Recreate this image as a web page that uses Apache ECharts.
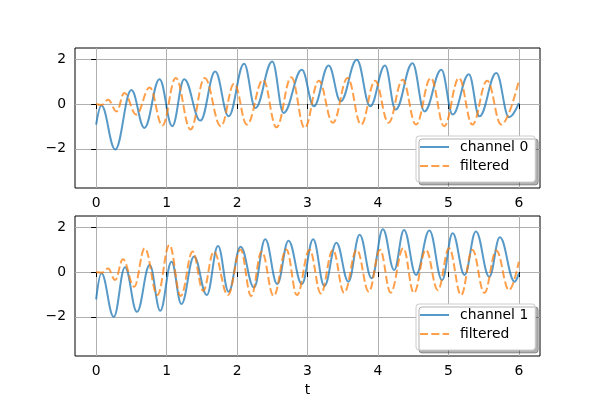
<!DOCTYPE html>
<html><head><meta charset="utf-8">
<script src="https://cdn.jsdelivr.net/npm/echarts@6/dist/echarts.min.js"></script>
<style>html,body{margin:0;padding:0;background:#fff}#c{width:600px;height:400px}</style>
</head><body><div id="c"></div>
<script>
// Channel 0 (top) - extrema
const t0   = [0, 0.075, 0.27, 0.50, 0.685, 0.90, 1.08, 1.25, 1.48, 1.69, 1.88, 2.10, 2.26, 2.50, 2.66, 2.92, 3.09, 3.30, 3.47, 3.70, 3.89, 4.10, 4.25, 4.49, 4.66, 4.90, 5.06, 5.29, 5.44, 5.68, 5.86, 6.0];
const ch0  = [-0.92, -0.07, -2.03, 0.62, -1.07, 1.11, -0.99, 1.11, -0.74, 1.45, -0.55, 1.80, -0.18, 1.90, -0.40, 1.53, -0.10, 1.72, 0.12, 1.97, -0.10, 1.72, -0.25, 1.82, -0.33, 1.53, -0.47, 1.33, -0.55, 1.38, -0.59, 0.04];
const tf0  = [0, 0.08, 0.17, 0.29, 0.40, 0.57, 0.76, 0.94, 1.13, 1.34, 1.54, 1.77, 1.96, 2.14, 2.37, 2.56, 2.77, 2.96, 3.16, 3.36, 3.57, 3.76, 3.96, 4.15, 4.35, 4.54, 4.75, 4.94, 5.15, 5.34, 5.55, 5.75, 6.0];
const flt0 = [0, -0.04, 0.19, -0.33, 0.49, -0.47, 0.74, -0.96, 1.16, -1.14, 1.16, -0.99, 0.91, -0.92, 1.08, -1.04, 1.19, -1.07, 1.04, -0.84, 1.16, -0.92, 1.04, -0.84, 1.08, -0.92, 1.16, -0.99, 1.16, -0.92, 1.04, -0.92, 1.05];
// Channel 1 (bottom)
const t1   = [0, 0.075, 0.25, 0.41, 0.58, 0.76, 0.91, 1.07, 1.21, 1.39, 1.57, 1.73, 1.88, 2.05, 2.24, 2.40, 2.57, 2.73, 2.92, 3.08, 3.24, 3.41, 3.58, 3.74, 3.91, 4.07, 4.23, 4.37, 4.54, 4.73, 4.91, 5.06, 5.23, 5.39, 5.58, 5.73, 5.94, 6.0];
const ch1  = [-1.22, -0.06, -2.0, 0.21, -1.78, 0.31, -1.73, 0.46, -1.43, 0.69, -1.03, 1.16, -0.88, 1.13, -0.69, 1.46, -0.54, 1.40, -0.54, 1.46, -0.63, 1.31, -0.43, 1.66, -0.28, 1.91, 0.09, 1.88, -0.13, 1.85, -0.36, 1.73, -0.13, 1.81, -0.21, 1.55, -0.43, -0.06];
const tf1  = [0, 0.08, 0.17, 0.27, 0.38, 0.54, 0.69, 0.87, 1.04, 1.20, 1.37, 1.52, 1.67, 1.87, 2.05, 2.20, 2.35, 2.52, 2.70, 2.85, 3.03, 3.19, 3.36, 3.52, 3.70, 3.87, 4.03, 4.18, 4.36, 4.51, 4.68, 4.85, 5.01, 5.18, 5.34, 5.51, 5.68, 5.86, 6.0];
const flt1 = [0, -0.03, 0.16, -0.36, 0.57, -0.66, 1.06, -1.03, 1.21, -1.07, 0.91, -0.84, 0.91, -1.03, 1.0, -1.07, 0.91, -1.07, 1.01, -1.03, 0.99, -0.96, 0.99, -0.93, 0.99, -0.88, 0.99, -0.92, 1.06, -0.93, 0.99, -0.81, 1.06, -1.03, 0.99, -0.93, 0.96, -0.81, 0.46];

const xTicks = [0, 1, 2, 3, 4, 5, 6];
const yTicks = [-2, 0, 2];
const legendTop = ['channel 0', 'filtered'];
const legendBottom = ['channel 1', 'filtered'];

const FONT = 'DejaVu Sans';
const FS = 13.9;
const BLUE = '#1f77b4', ORANGE = '#ff7f0e';

function pairs(t, y) { return t.map((v, i) => [v, y[i]]); }

function mkX(gi, name) {
  return {
    type: 'value', gridIndex: gi, min: -0.3, max: 6.3,
    axisLine: { show: false },
    axisTick: { show: true, customValues: xTicks, length: 5, lineStyle: { color: '#000', width: 1 } },
    axisLabel: { customValues: xTicks, margin: 8, color: '#000', fontFamily: FONT, fontSize: FS },
    splitLine: { show: true, lineStyle: { color: '#b0b0b0', width: 1 } },
    name: name || '', nameLocation: 'middle', nameGap: 27,
    nameTextStyle: { color: '#000', fontFamily: FONT, fontSize: FS }
  };
}
function mkY(gi) {
  return {
    type: 'value', gridIndex: gi, min: -3.75, max: 2.5,
    axisLine: { show: false },
    axisTick: { show: true, customValues: yTicks, length: 5, lineStyle: { color: '#000', width: 1 } },
    axisLabel: { customValues: yTicks, margin: 9, color: '#000', fontFamily: FONT, fontSize: FS,
      formatter: v => String(v).replace('-', '\u2212') },
    splitLine: { show: true, lineStyle: { color: '#b0b0b0', width: 1 } }
  };
}
function mkLine(name, gi, data, color, dashed) {
  return {
    type: 'line', name, xAxisIndex: gi, yAxisIndex: gi, data,
    symbol: 'none', showSymbol: false, smooth: 0.4, smoothMonotone: 'x',
    lineStyle: { color, width: 2, opacity: 0.75, type: dashed ? [8, 3.3] : 'solid' },
    itemStyle: { color }, emphasis: { disabled: true }
  };
}
function mkLegend(top, data) {
  return {
    orient: 'vertical', left: 416, top, data,
    itemWidth: 29, itemHeight: 14, itemGap: 5,
    padding: [4, 7, 9, 3],
    backgroundColor: '#fff', borderColor: '#cccccc', borderWidth: 1, borderRadius: 3,
    shadowColor: 'rgba(0,0,0,0.3)', shadowBlur: 0, shadowOffsetX: 3, shadowOffsetY: 3,
    itemStyle: { opacity: 0, color: 'rgba(0,0,0,0)', borderWidth: 0 },
    lineStyle: { width: 2, opacity: 0.75 },
    textStyle: { color: '#000', fontFamily: FONT, fontSize: FS, padding: [0, 0, 0, 6] },
    selectedMode: false
  };
}

const chart = echarts.init(document.getElementById('c'), null, { renderer: 'canvas' });
chart.setOption({
  animation: false,
  backgroundColor: '#fff',
  grid: [
    { left: 75, top: 48, width: 465, height: 140, show: true, borderColor: '#000', borderWidth: 1, backgroundColor: 'transparent' },
    { left: 75, top: 216, width: 465, height: 140, show: true, borderColor: '#000', borderWidth: 1, backgroundColor: 'transparent' }
  ],
  xAxis: [mkX(0), mkX(1, 't')],
  yAxis: [mkY(0), mkY(1)],
  legend: [mkLegend(136, legendTop), mkLegend(304, legendBottom)],
  series: [
    mkLine('channel 0', 0, pairs(t0, ch0), BLUE, false),
    mkLine('filtered', 0, pairs(tf0, flt0), ORANGE, true),
    mkLine('channel 1', 1, pairs(t1, ch1), BLUE, false),
    mkLine('filtered', 1, pairs(tf1, flt1), ORANGE, true)
  ]
});
</script>
</body></html>
